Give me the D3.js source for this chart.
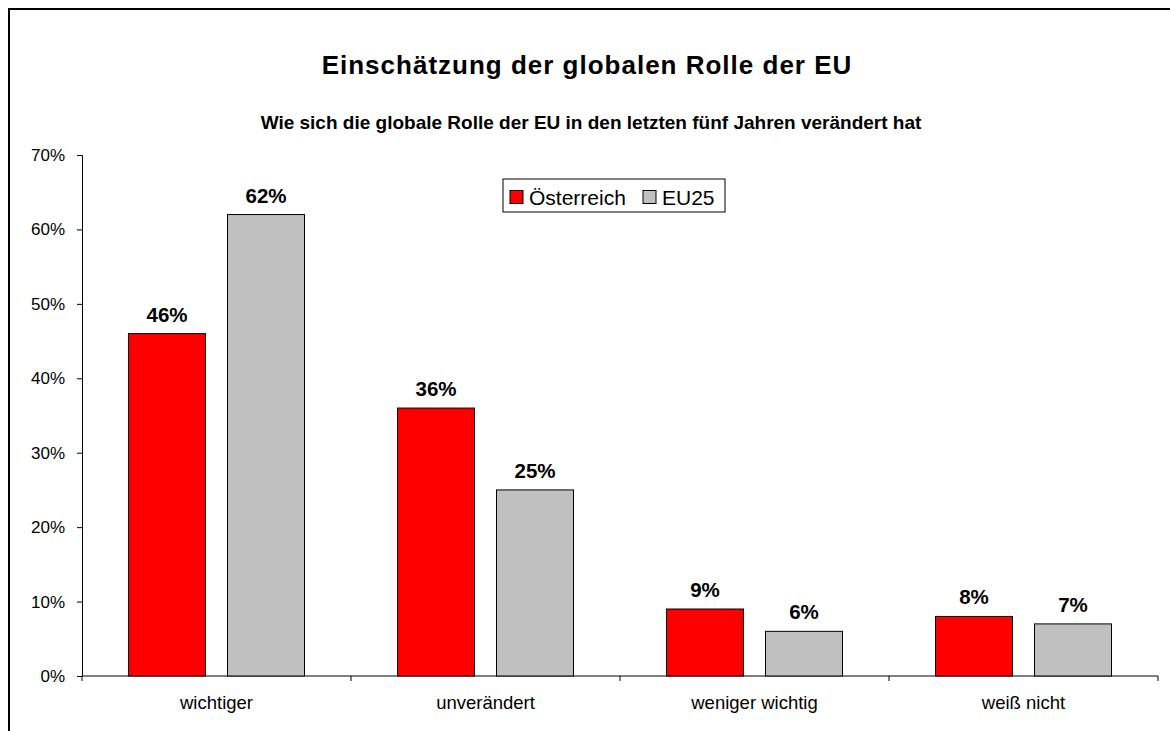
<html lang="de">
  <head>
    <meta charset="utf-8" />
    <title>Einschätzung der globalen Rolle der EU</title>
    <script src="https://cdn.jsdelivr.net/npm/d3@7"></script>
    <style>
      body { margin: 0; background: #fff; }
      text { font-family: "Liberation Sans", Arial, sans-serif; fill: #000; }
    </style>
  </head>
  <body>
    <script type="text/javascript">
      /*************************** Data ***************************/

      var categories = ["wichtiger", "unverändert", "weniger wichtig", "weiß nicht"];
      var seriesNames = ["Österreich", "EU25"];
      var oesterreich = [46, 36, 9, 8];
      var eu25 = [62, 25, 6, 7];
      var yTicks = [0, 10, 20, 30, 40, 50, 60, 70];
      var colors = ["#FF0000", "#C0C0C0"];

      /*************************** Canvas ***************************/

      var W = 1170, H = 731;
      var svg = d3.select("body").append("svg").attr("width", W).attr("height", H);

      // outer frame, only left and top edges fall inside the picture
      svg.append("rect")
        .attr("x", 9).attr("y", 9).attr("width", W + 20).attr("height", H + 20)
        .attr("fill", "none").attr("stroke", "#000").attr("stroke-width", 2);

      var plotLeft = 82, plotRight = 1158, plotTop = 155, plotBottom = 676;

      var x = d3.scaleBand().domain(categories).range([plotLeft, plotRight]);
      var y = d3.scaleLinear().domain([0, 70]).range([plotBottom, plotTop]);

      var barW = 77, innerGap = 22;

      /*************************** Titles ***************************/

      svg.append("text")
        .attr("x", 587).attr("y", 74)
        .attr("text-anchor", "middle")
        .style("font-size", "26px").style("font-weight", "bold")
        .style("letter-spacing", "1px")
        .text("Einschätzung der globalen Rolle der EU");

      svg.append("text")
        .attr("x", 591).attr("y", 129)
        .attr("text-anchor", "middle")
        .style("font-size", "19px").style("font-weight", "bold")
        .text("Wie sich die globale Rolle der EU in den letzten fünf Jahren verändert hat");

      /*************************** Axes ***************************/

      var yAxis = d3.axisLeft(y).tickValues(yTicks).tickSize(5).tickPadding(12)
        .tickFormat(function (d) { return d + "%"; });
      var gy = svg.append("g").attr("transform", "translate(" + plotLeft + ",0)").call(yAxis);
      gy.select(".domain").attr("stroke", "#000");
      gy.selectAll("line").attr("stroke", "#000");
      gy.selectAll("text")
        .attr("fill", "#000")
        .style("font-size", "17px")
        .style("font-family", "Liberation Sans, Arial, sans-serif");

      var gx = svg.append("g");
      gx.append("line")
        .attr("x1", plotLeft).attr("x2", plotRight).attr("y1", plotBottom).attr("y2", plotBottom)
        .attr("stroke", "#000");
      var bounds = categories.map(function (c) { return x(c); }).concat([plotRight]);
      gx.selectAll(".xtick").data(bounds).enter().append("line")
        .attr("x1", function (d) { return d; }).attr("x2", function (d) { return d; })
        .attr("y1", plotBottom).attr("y2", plotBottom + 5)
        .attr("stroke", "#000");
      gx.selectAll(".xlab").data(categories).enter().append("text")
        .attr("x", function (d) { return x(d) + x.bandwidth() / 2; })
        .attr("y", 709)
        .attr("text-anchor", "middle")
        .style("font-size", "18.5px")
        .text(function (d) { return d; });

      /*************************** Bars ***************************/

      var series = [oesterreich, eu25];
      series.forEach(function (vals, si) {
        var offset = si === 0 ? -(innerGap / 2 + barW) : innerGap / 2;
        var g = svg.append("g");
        g.selectAll("rect").data(vals).enter().append("rect")
          .attr("x", function (d, i) { return x(categories[i]) + x.bandwidth() / 2 + offset; })
          .attr("y", function (d) { return y(d); })
          .attr("width", barW)
          .attr("height", function (d) { return plotBottom - y(d); })
          .attr("fill", colors[si])
          .attr("stroke", "#000").attr("stroke-width", 1);
        g.selectAll("text").data(vals).enter().append("text")
          .attr("x", function (d, i) { return x(categories[i]) + x.bandwidth() / 2 + offset + barW / 2; })
          .attr("y", function (d) { return y(d) - 12; })
          .attr("text-anchor", "middle")
          .style("font-size", "20.5px").style("font-weight", "bold")
          .text(function (d) { return d + "%"; });
      });

      /*************************** Legend ***************************/

      var leg = svg.append("g").attr("transform", "translate(503,179)");
      leg.append("rect").attr("width", 222).attr("height", 33)
        .attr("fill", "#fff").attr("stroke", "#000");
      var legX = [7, 140];
      seriesNames.forEach(function (n, i) {
        leg.append("rect")
          .attr("x", legX[i]).attr("y", 11.5).attr("width", 13).attr("height", 13)
          .attr("fill", colors[i]).attr("stroke", "#000");
        leg.append("text")
          .attr("x", legX[i] + 19).attr("y", 26)
          .style("font-size", "21px")
          .text(n);
      });
    </script>
  </body>
</html>
